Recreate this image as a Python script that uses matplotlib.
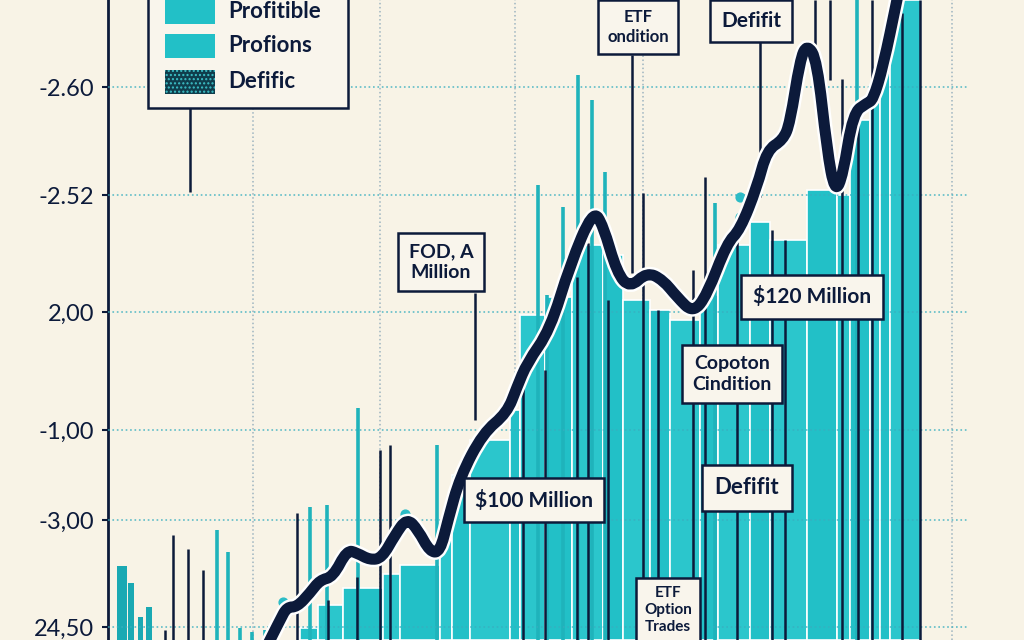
import numpy as np
import matplotlib
matplotlib.use('Agg')
import matplotlib.pyplot as plt
import matplotlib.patheffects as pe
from matplotlib.patches import Rectangle, PathPatch
from matplotlib.path import Path

# colours
bg = '#f8f3e6'
teal = '#22c0c7'
teal2 = '#2bc6cc'
teal_dark = '#1aa9b3'
navy = '#0c1a3a'

# y axis labels (as printed on the chart)
ytick_pos = [553, 445, 328, 210, 120, 13]
ytick_labels = ['-2.60', '-2.52', '2,00', '-1,00', '-3,00', '24,50']

# main trend line
line_x = [165, 180, 187, 197, 210, 220, 233, 247, 257, 270, 282, 295, 307, 318,
          330, 340, 348, 360, 383, 407, 417, 427, 450, 470, 493, 503, 517, 530,
          547, 563, 577, 593, 607, 627, 640, 657, 667, 683, 690, 700, 707, 717,
          727, 735, 743, 753, 767, 773, 783, 797, 805]
line_y = [-10, 20, 33, 33, 47, 60, 63, 90, 87, 80, 82, 105, 122, 110,
          88, 88, 120, 163, 207, 227, 253, 277, 310, 375, 430, 415, 367, 352,
          368, 360, 343, 327, 345, 397, 410, 453, 490, 500, 517, 580, 596, 580,
          490, 447, 465, 527, 537, 540, 573, 640, 680]

# wide teal bars
bar_left = [200, 218, 243, 283, 300, 340, 352, 370, 410, 420, 445, 472, 503, 523,
            550, 570, 600, 618, 650, 670, 707, 737, 750, 770, 780, 790]
bar_width = [18, 25, 40, 17, 40, 12, 18, 40, 10, 25, 27, 31, 20, 27,
             20, 30, 18, 32, 20, 37, 30, 13, 20, 10, 10, 31]
bar_height = [12, 35, 52, 66, 75, 100, 165, 200, 230, 325, 343, 395, 385, 340,
              330, 320, 345, 395, 418, 400, 450, 445, 520, 540, 575, 640]

# small bars near the axis
small_left = [17, 28, 38, 46]
small_width = [10, 6, 5, 6]
small_height = [74, 57, 23, 33]

# thin teal spikes
spike_x = [117, 128, 140, 152, 165, 210, 227, 258, 337, 438, 447, 463, 478, 492,
           505, 615, 757]
spike_h = [110, 88, 12, 8, 10, 133, 135, 232, 195, 455, 345, 433, 565, 540,
           468, 437, 640]

# thin navy lines
navy_x = [65, 73, 88, 103, 197, 228, 257, 280, 290, 423, 445, 477, 488, 508,
          543, 558, 593, 605, 637, 672, 685, 715, 730, 742, 758, 772, 802, 820]
navy_lo = [0, 0, 0, 0, 0, 0, 0, 0, 0, 0, 0, 0, 0, 0,
           0, 0, 0, 0, 0, 0, 0, 580, 560, 0, 0, 0, 0, 0]
navy_hi = [10, 105, 91, 70, 127, 40, 63, 190, 195, 258, 270, 363, 397, 340,
           447, 330, 370, 463, 400, 410, 400, 640, 640, 561, 540, 640, 627, 640]

# teal dots
dot_x = [183, 305, 640, 640]
dot_y = [38, 126, 443, 423]

# annotation boxes
notes = ['FOD, A\nMillion', 'ETF\nondition', 'Defifit', '$120 Million',
         'Copoton\nCindition', 'Defifit', '$100 Million', 'ETF\nOption\nTrades']
note_x = [341, 538, 651, 712, 632, 647, 434, 568]
note_y = [378, 613, 619, 343, 266, 152, 140, 30]
note_fs = [14, 12, 15, 15, 14, 16, 15, 11]

# connector lines from boxes
conn_x = [90, 375, 532, 660]
conn_lo = [448, 220, 367, 443]
conn_hi = [532, 347, 585, 600]

legend_labels = ['Profitible', 'Profions', 'Defific']

fig = plt.figure(figsize=(10.24, 6.4), dpi=100)
fig.patch.set_facecolor(bg)
ax = fig.add_axes([108 / 1024, 0, 1 - 108 / 1024, 1])
ax.set_facecolor(bg)
ax.set_xlim(8, 924)
ax.set_ylim(0, 640)

# grid
for gx in [153, 280, 415, 543, 852]:
    ax.axvline(gx, color='#9db4c0', ls=':', lw=1.1, zorder=0.5)
ax.hlines(ytick_pos, 8, 868, color='#38aebf', linestyles=':', lw=1.2, zorder=2.6, alpha=0.8)

# bars
cols = [teal if i % 2 == 0 else teal2 for i in range(len(bar_left))]
ax.bar(bar_left, bar_height, width=bar_width, align='edge', color=cols,
       edgecolor='white', linewidth=1.2, zorder=2)
ax.bar(small_left, small_height, width=small_width, align='edge', color=teal_dark,
       edgecolor='none', zorder=2)
ax.vlines(spike_x, 0, spike_h, color='#1fb3bb', lw=2.6, zorder=2.2)
ax.vlines(navy_x, navy_lo, navy_hi, color=navy, lw=1.8, zorder=3)
ax.scatter(dot_x, dot_y, s=40, color='#2bbcc6', zorder=2.3)
ax.vlines(conn_x, conn_lo, conn_hi, color=navy, lw=1.8, zorder=3)

# trend line, drawn as a smooth quadratic path through the read points
pts = np.column_stack([line_x, line_y]).astype(float)
verts = [pts[0]]
codes = [Path.MOVETO]
for i in range(1, len(pts) - 1):
    verts += [pts[i], (pts[i] + pts[i + 1]) / 2]
    codes += [Path.CURVE3, Path.CURVE3]
verts.append(pts[-1])
codes.append(Path.LINETO)
trend = PathPatch(Path(verts, codes), fill=False, ec=navy, lw=8, capstyle='round',
                  joinstyle='round', zorder=4,
                  path_effects=[pe.Stroke(linewidth=11.5, foreground='white'), pe.Normal()])
ax.add_patch(trend)

# annotation boxes
for t, x, y, fs in zip(notes, note_x, note_y, note_fs):
    ax.text(x, y, t.replace('$', r'\$'), ha='center', va='center', fontsize=fs,
            color=navy, fontweight='bold', family=['Lato', 'DejaVu Sans'],
            linespacing=1.25, zorder=6,
            bbox=dict(boxstyle='square,pad=0.55', fc='#f9f5ec', ec=navy, lw=1.8))

# legend drawn by hand
ax.add_patch(Rectangle((48, 532), 200, 130, fc='#f9f5ec', ec=navy, lw=1.8,
                       zorder=6, clip_on=False))
leg_y = [628, 594, 558]
leg_fc = [teal, teal, '#0f3d4c']
for ly, fc, lab in zip(leg_y, leg_fc, legend_labels):
    r = Rectangle((65, ly - 12), 50, 24, fc=fc, ec='none', zorder=7)
    if lab == 'Defific':
        r.set_hatch('....')
        r.set_edgecolor('#3cc0c8')
        r.set_linewidth(0)
    ax.add_patch(r)
    ax.text(128, ly, lab, ha='left', va='center', fontsize=16, color=navy,
            fontweight='bold', family=['Lato', 'DejaVu Sans'], zorder=7)

# axes styling
for s in ['top', 'right', 'bottom']:
    ax.spines[s].set_visible(False)
ax.spines['left'].set_color(navy)
ax.spines['left'].set_linewidth(2)
ax.set_xticks([])
ax.set_yticks(ytick_pos)
ax.set_yticklabels(ytick_labels, fontsize=17, color=navy, family=['Lato', 'DejaVu Sans'])
ax.tick_params(axis='y', length=4, width=1.5, color=navy, pad=6)

fig.savefig('out.png', dpi=100, facecolor=bg)
